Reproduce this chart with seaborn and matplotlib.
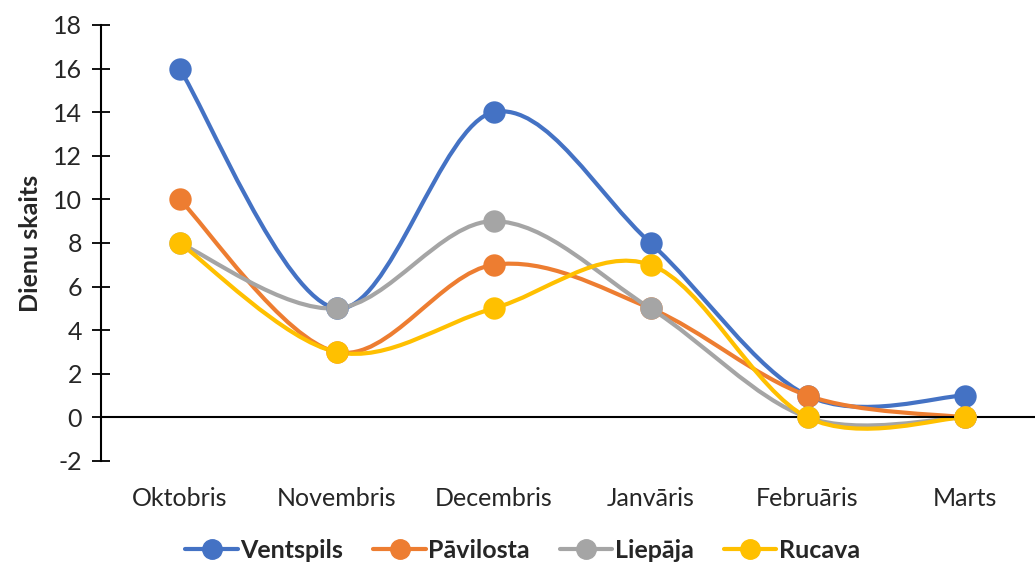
import numpy as np
import pandas as pd
import matplotlib
matplotlib.use("Agg")
import matplotlib.pyplot as plt
from matplotlib.path import Path
from matplotlib.patches import PathPatch
from matplotlib.lines import Line2D
import seaborn as sns

months = ["Oktobris", "Novembris", "Decembris", "Janvāris", "Februāris", "Marts"]
ventspils = [16, 5, 14, 8, 1, 1]
pavilosta = [10, 3, 7, 5, 1, 0]
liepaja = [8, 5, 9, 5, 0, 0]
rucava = [8, 3, 5, 7, 0, 0]
series_names = ["Ventspils", "Pāvilosta", "Liepāja", "Rucava"]
colors = ["#4472C4", "#ED7D31", "#A5A5A5", "#FFC000"]
y_ticks = list(range(-2, 19, 2))

sns.set_theme(style="white")
plt.rcParams["font.family"] = ["Lato", "DejaVu Sans"]

fig = plt.figure(figsize=(10.35, 5.65), dpi=100)
ax = fig.add_axes([101 / 1035, 1 - 461 / 565, (1043 - 101) / 1035, (461 - 25) / 565])

df = pd.DataFrame({"month": months * 4,
                   "x": list(range(len(months))) * 4,
                   "value": ventspils + pavilosta + liepaja + rucava,
                   "series": sum([[n] * len(months) for n in series_names], [])})


def smooth_path(xs, ys):
    """Cubic Bezier path through the points (Catmull-Rom style smoothing)."""
    pts = np.column_stack([xs, ys]).astype(float)
    n = len(pts)
    verts = [pts[0]]
    codes = [Path.MOVETO]
    for i in range(n - 1):
        p0 = pts[max(i - 1, 0)]
        p1 = pts[i]
        p2 = pts[i + 1]
        p3 = pts[min(i + 2, n - 1)]
        c1 = p1 + (p2 - p0) / 6.0
        c2 = p2 - (p3 - p1) / 6.0
        verts += [c1, c2, p2]
        codes += [Path.CURVE4] * 3
    return Path(verts, codes)


palette = dict(zip(series_names, colors))
for name in series_names:
    sub = df[df.series == name]
    patch = PathPatch(smooth_path(sub.x.values, sub.value.values), facecolor="none",
                      edgecolor=palette[name], lw=3.0, capstyle="round", joinstyle="round")
    ax.add_patch(patch)
    sns.scatterplot(data=sub, x="x", y="value", color=palette[name], s=260,
                    edgecolor=palette[name], linewidth=0, ax=ax, legend=False, zorder=3)

ax.set_xlim(-0.5, len(months) - 0.5)
ax.set_ylim(-2, 18)
ax.set_yticks(y_ticks)
ax.set_yticklabels([str(t) for t in y_ticks])

ax.set_xticks(range(len(months)))
ax.set_xticklabels(months)
ax.set_xticks(np.arange(0.5, len(months) - 0.5, 1), minor=True)
ax.tick_params(axis="x", which="major", length=0, pad=50, labelsize=18)
ax.tick_params(axis="x", which="minor", length=13, width=1.3, direction="inout", color="black")
ax.tick_params(axis="y", length=13, width=1.3, direction="inout", color="black", pad=7,
               left=True, labelsize=18)

for s in ["top", "right"]:
    ax.spines[s].set_visible(False)
ax.spines["bottom"].set_position(("data", 0))
ax.spines["left"].set_color("black")
ax.spines["bottom"].set_color("black")
ax.spines["left"].set_linewidth(1.5)
ax.spines["bottom"].set_linewidth(1.5)

ax.set_xlabel("")
ax.set_ylabel("Dienu skaits", fontsize=18, fontweight="bold", labelpad=8)

handles = [Line2D([0], [0], color=c, lw=3.0, marker="o", markersize=14) for c in colors]
leg = fig.legend(handles, series_names, loc="center", bbox_to_anchor=(0.505, 1 - 550 / 565),
                 ncol=4, frameon=False, prop={"weight": "bold", "size": 18},
                 handlelength=2.1, handletextpad=0.1, columnspacing=1.2)

fig.savefig("out.png", dpi=100)
